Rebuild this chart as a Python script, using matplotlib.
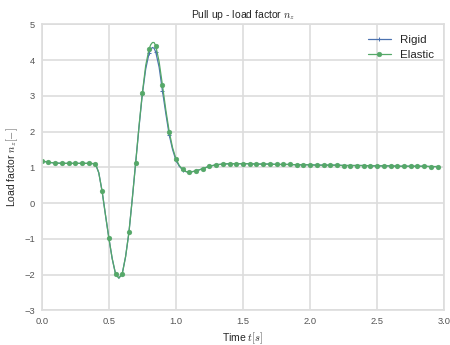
import numpy as np
import matplotlib
matplotlib.use("Agg")
import matplotlib.pyplot as plt
import seaborn as sns

# time samples [s]: 0.05 s output steps, with extra samples through the manoeuvre
t = [0.00, 0.05, 0.10, 0.15, 0.20, 0.25, 0.30, 0.35, 0.40, 0.425,
     0.45, 0.475, 0.50, 0.525, 0.55, 0.575, 0.60, 0.625, 0.65, 0.675,
     0.70, 0.725, 0.75, 0.775, 0.80, 0.8125, 0.825, 0.8375, 0.85, 0.875,
     0.90, 0.925, 0.95, 0.975, 1.00, 1.025, 1.05, 1.075, 1.10, 1.15,
     1.20, 1.25, 1.30, 1.35, 1.40, 1.45, 1.50, 1.55, 1.60, 1.65,
     1.70, 1.75, 1.80, 1.85, 1.90, 1.95, 2.00, 2.05, 2.10, 2.15,
     2.20, 2.25, 2.30, 2.35, 2.40, 2.45, 2.50, 2.55, 2.60, 2.65,
     2.70, 2.75, 2.80, 2.85, 2.90, 2.95]

n_elastic = [1.18, 1.14, 1.12, 1.11, 1.11, 1.11, 1.11, 1.11, 1.10, 0.85,
             0.33, -0.33, -0.97, -1.55, -1.98, -2.10, -1.98, -1.50, -0.82, 0.12,
             1.12, 2.15, 3.08, 3.85, 4.31, 4.43, 4.49, 4.49, 4.40, 3.95,
             3.29, 2.60, 2.00, 1.55, 1.24, 1.05, 0.94, 0.88, 0.86, 0.90,
             0.96, 1.03, 1.07, 1.09, 1.10, 1.10, 1.10, 1.10, 1.09, 1.09,
             1.09, 1.08, 1.08, 1.08, 1.07, 1.07, 1.07, 1.06, 1.06, 1.06,
             1.06, 1.05, 1.05, 1.05, 1.05, 1.04, 1.04, 1.04, 1.04, 1.03,
             1.03, 1.03, 1.03, 1.03, 1.02, 1.02]

n_rigid = [1.18, 1.14, 1.12, 1.11, 1.11, 1.11, 1.11, 1.11, 1.10, 0.85,
           0.33, -0.33, -0.97, -1.55, -1.98, -2.10, -1.98, -1.50, -0.82, 0.12,
           1.12, 2.12, 3.05, 3.75, 4.19, 4.30, 4.35, 4.33, 4.22, 3.80,
           3.13, 2.50, 1.91, 1.50, 1.20, 1.03, 0.93, 0.88, 0.86, 0.90,
           0.96, 1.03, 1.07, 1.09, 1.10, 1.10, 1.10, 1.10, 1.09, 1.09,
           1.09, 1.08, 1.08, 1.08, 1.07, 1.07, 1.07, 1.06, 1.06, 1.06,
           1.06, 1.05, 1.05, 1.05, 1.05, 1.04, 1.04, 1.04, 1.04, 1.03,
           1.03, 1.03, 1.03, 1.03, 1.02, 1.02]

# markers only on the 0.05 s output steps
marks = [i for i, ti in enumerate(t) if abs(round(ti / 0.05) * 0.05 - ti) < 1e-6]

sns.set_style("whitegrid")
plt.rcParams['font.family'] = ['Liberation Sans', 'DejaVu Sans']
plt.rcParams['mathtext.fontset'] = 'cm'

fig = plt.figure(figsize=(6, 4.6), dpi=75)
ax = fig.add_axes([0.0927, 0.1006, 0.8946, 0.829])

ax.plot(t, n_rigid, color='#4C72B0', lw=1.2, marker='+', ms=3.5, mew=1,
        markevery=marks, label='Rigid')
ax.plot(t, n_elastic, color='#55A868', lw=1.2, marker='o', ms=4.5, mew=0.5,
        markevery=marks, label='Elastic')

ax.set_xlim(0, 3)
ax.set_ylim(-3, 5)
ax.set_xticks(np.arange(0, 3.01, 0.5))
ax.set_yticks(np.arange(-3, 5.01, 1))
ax.tick_params(labelsize=9, colors='#555555', pad=3)
ax.grid(True, color='#DDDDDD', lw=1.6)
for s in ax.spines.values():
    s.set_color('#DDDDDD')
    s.set_linewidth(1.6)

ax.set_title(r'Pull up - load factor $n_z$', fontsize=10, color='#262626')
ax.set_xlabel(r'Time $t[s]$', fontsize=10, color='#262626')
ax.set_ylabel(r'Load factor $n_z[-]$', fontsize=10, color='#262626')
ax.legend(loc='upper right', fontsize=11, handlelength=2, frameon=False)

fig.savefig('out.png', dpi=75)
